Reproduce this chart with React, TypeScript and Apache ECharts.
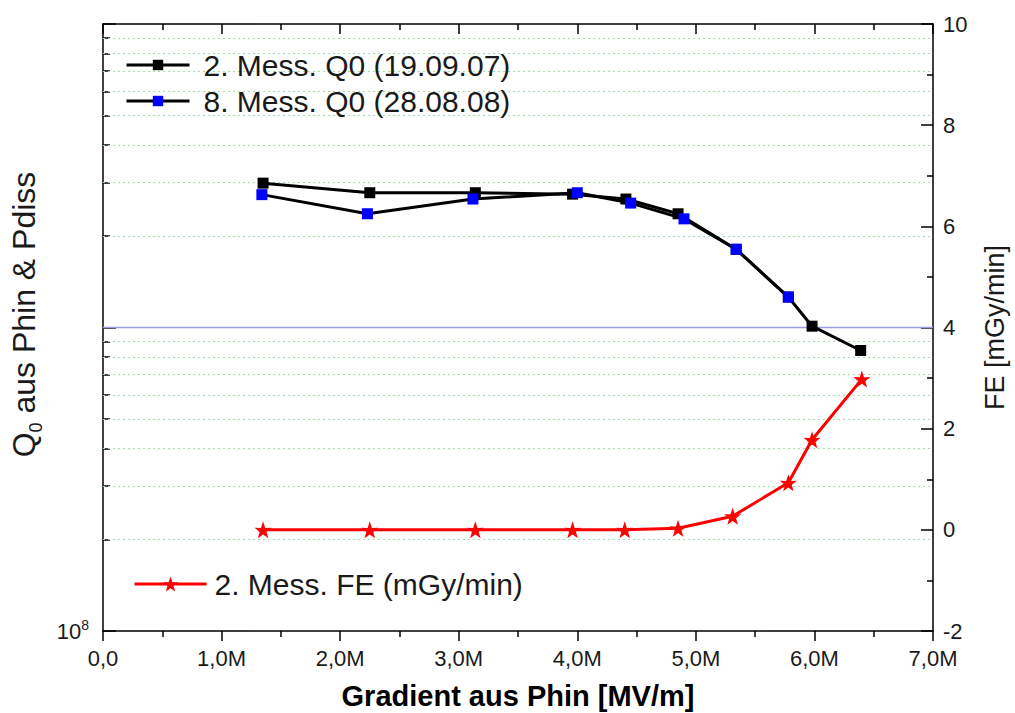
import React, { useEffect, useRef } from "react";
import * as echarts from "echarts";

// Gradient [MV/m] and Q0 values
const xMess2 = [1.35, 2.25, 3.14, 3.96, 4.41, 4.85, 5.34, 5.78, 5.98, 6.39];
const q0Mess2 = [2.99e9, 2.78e9, 2.78e9, 2.75e9, 2.65e9, 2.37e9, 1.81e9, 1.26e9, 1.01e9, 8.4e8];
const xMess8 = [1.34, 2.23, 3.12, 4.0, 4.45, 4.9, 5.34, 5.78];
const q0Mess8 = [2.74e9, 2.37e9, 2.65e9, 2.78e9, 2.57e9, 2.28e9, 1.81e9, 1.26e9];
const xFE = [1.35, 2.25, 3.14, 3.96, 4.4, 4.85, 5.31, 5.78, 5.98, 6.4];
const feMess2 = [0, 0, 0, 0, 0, 0.03, 0.27, 0.93, 1.78, 2.98];

const seriesNames = [
  "2. Mess. Q0 (19.09.07)",
  "8. Mess. Q0 (28.08.08)",
  "2. Mess. FE (mGy/min)",
];

// log-axis major values and minor values (2..9 x 10^8, 2..9 x 10^9)
const majorLogValues = [1e8, 1e9, 1e10];
const minorLogValues = [
  2e8, 3e8, 4e8, 5e8, 6e8, 7e8, 8e8, 9e8,
  2e9, 3e9, 4e9, 5e9, 6e9, 7e9, 8e9, 9e9,
];

const STAR =
  "path://M50,0 L61.8,35.1 L97.6,34.5 L69.1,56.7 L79.4,90.5 L50,70.5 L20.6,90.5 L30.9,56.7 L2.4,34.5 L38.2,35.1 Z";

const FONT = "Liberation Sans, Arial, sans-serif";
const TXT = "#1a1a1a";
const AX = { color: "#000", width: 1.5 };

export default function App() {
  const ref = useRef<HTMLDivElement>(null);
  useEffect(() => {
    if (!ref.current) return;
    const chart = echarts.init(ref.current, null, { renderer: "svg" });
    const xFmt = (v: number) =>
      v === 0 ? "0,0" : `${v.toFixed(1).replace(".", ",")}M`;
    chart.setOption({
      animation: false,
      backgroundColor: "#ffffff",
      textStyle: { fontFamily: FONT },
      grid: {
        left: 103,
        right: 82,
        top: 24,
        bottom: 82,
        containLabel: false,
        outerBoundsMode: "none",
      },
      legend: [
        {
          data: [seriesNames[0], seriesNames[1]],
          orient: "vertical",
          left: 120,
          top: 45,
          itemWidth: 63,
          itemHeight: 13,
          itemGap: 6,
          lineStyle: { width: 3 },
          textStyle: { fontSize: 30, color: TXT, fontFamily: FONT, padding: [0, 0, 0, 9] },
          selectedMode: false,
        },
        {
          data: [seriesNames[2]],
          orient: "vertical",
          left: 128,
          top: 564,
          itemWidth: 72,
          itemHeight: 19,
          lineStyle: { width: 3 },
          textStyle: { fontSize: 30, color: TXT, fontFamily: FONT, padding: [0, 0, 0, 3] },
          selectedMode: false,
        },
      ],
      xAxis: [
        {
          type: "value",
          min: 0,
          max: 7,
          interval: 1,
          position: "bottom",
          name: "Gradient aus Phin [MV/m]",
          nameLocation: "middle",
          nameGap: 50,
          nameTextStyle: {
            fontSize: 29,
            fontWeight: "bold",
            color: "#000",
            fontFamily: FONT,
          },
          axisLine: { show: true, onZero: false, lineStyle: AX },
          axisTick: { show: true, inside: false, length: 10, lineStyle: AX },
          minorTick: { show: true, splitNumber: 2, length: 6, lineStyle: AX },
          axisLabel: {
            formatter: xFmt,
            fontSize: 22,
            color: TXT,
            margin: 16,
            fontFamily: FONT,
          },
          splitLine: { show: false },
        },
        {
          type: "value",
          min: 0,
          max: 7,
          interval: 1,
          position: "top",
          axisLine: { show: true, onZero: false, lineStyle: AX },
          axisTick: { show: true, inside: true, length: 10, lineStyle: AX },
          minorTick: { show: true, splitNumber: 2, length: 6, lineStyle: AX },
          axisLabel: { show: false },
          splitLine: { show: false },
        },
      ],
      yAxis: [
        {
          type: "log",
          logBase: 10,
          min: 1e8,
          max: 1e10,
          position: "left",
          name: "Q{sub|0} aus Phin & Pdiss",
          nameLocation: "middle",
          nameRotate: 90,
          nameGap: 58,
          nameTextStyle: {
            fontSize: 32,
            color: TXT,
            fontFamily: FONT,
            lineHeight: 42,
            padding: [0, 0, 0, 26],
            rich: {
              sub: { fontSize: 18, lineHeight: 15, verticalAlign: "bottom", fontFamily: FONT, color: TXT },
            },
          },
          axisLine: { show: true, onZero: false, lineStyle: AX },
          axisTick: { show: true, inside: true, length: 13, lineStyle: AX },
          axisLabel: {
            fontSize: 22,
            color: TXT,
            margin: 14,
            fontFamily: FONT,
            customValues: [majorLogValues[0]],
            formatter: () => "{b|10}{s|8}",
            rich: {
              b: { fontSize: 22, lineHeight: 26, fontFamily: FONT, color: TXT },
              s: { fontSize: 14, lineHeight: 14, verticalAlign: "top", fontFamily: FONT, color: TXT },
            },
          },
          splitLine: { show: false },
        },
        {
          type: "value",
          min: -2,
          max: 10,
          interval: 2,
          position: "right",
          name: "FE [mGy/min]",
          nameLocation: "middle",
          nameRotate: 90,
          nameGap: 48,
          nameTextStyle: { fontSize: 27, color: TXT, fontFamily: FONT },
          axisLine: { show: true, onZero: false, lineStyle: AX },
          axisTick: { show: true, inside: true, length: 12, lineStyle: AX },
          minorTick: { show: true, splitNumber: 2, length: 6, lineStyle: AX },
          axisLabel: { fontSize: 22, color: TXT, margin: 10, fontFamily: FONT },
          splitLine: { show: false },
        },
        {
          type: "log",
          logBase: 10,
          min: 1e8,
          max: 1e10,
          position: "left",
          axisLine: { show: false, onZero: false },
          axisTick: {
            show: true,
            inside: true,
            length: 7,
            customValues: minorLogValues,
            lineStyle: AX,
          },
          axisLabel: { show: false },
          splitLine: { show: false },
        },
      ],
      series: [
        {
          name: seriesNames[0],
          type: "line",
          xAxisIndex: 0,
          yAxisIndex: 0,
          data: xMess2.map((x, i) => [x, q0Mess2[i]]),
          symbol: "rect",
          symbolSize: 11,
          lineStyle: { color: "#000", width: 3 },
          itemStyle: { color: "#000" },
          z: 3,
          markLine: {
            silent: true,
            symbol: "none",
            label: { show: false },
            data: [
              ...minorLogValues.map((v) => ({
                yAxis: v,
                lineStyle: { color: "#a8dca8", type: [2, 3], width: 1 },
              })),
              {
                yAxis: majorLogValues[1],
                lineStyle: { color: "#9c9ce8", type: "solid", width: 1.3 },
              },
            ],
            z: 1,
          },
        },
        {
          name: seriesNames[1],
          type: "line",
          xAxisIndex: 0,
          yAxisIndex: 0,
          data: xMess8.map((x, i) => [x, q0Mess8[i]]),
          symbol: "rect",
          symbolSize: 11,
          lineStyle: { color: "#000", width: 3 },
          itemStyle: { color: "#0000ff" },
          z: 4,
        },
        {
          name: seriesNames[2],
          type: "line",
          xAxisIndex: 0,
          yAxisIndex: 1,
          data: xFE.map((x, i) => [x, feMess2[i]]),
          symbol: STAR,
          symbolSize: 17,
          lineStyle: { color: "#ff0000", width: 3 },
          itemStyle: { color: "#ff0000" },
          z: 3,
        },
      ],
    });
    return () => chart.dispose();
  }, []);
  return (
    <div
      ref={ref}
      style={{ position: "fixed", left: 0, top: 0, width: 1015, height: 713 }}
    />
  );
}
